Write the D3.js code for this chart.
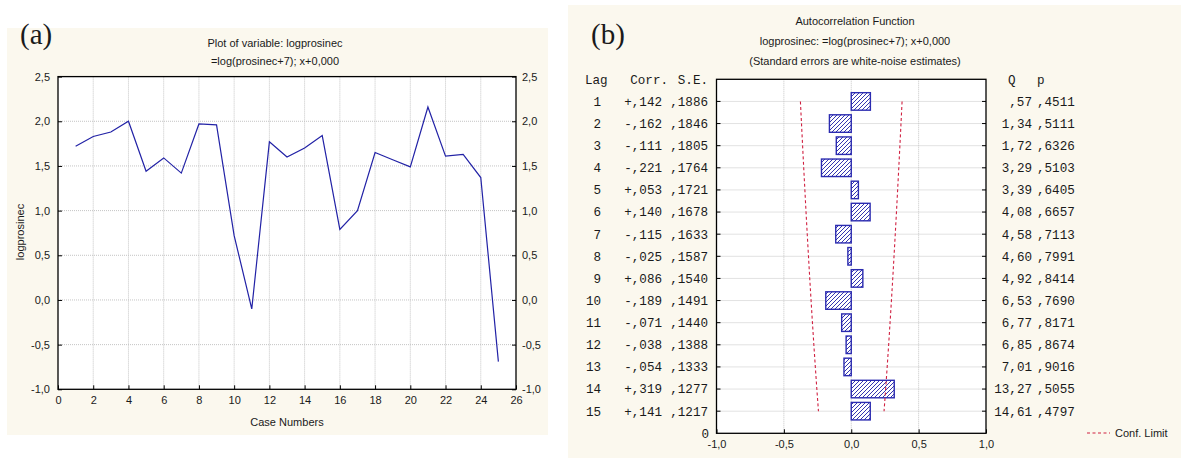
<!DOCTYPE html>
<html>
<head>
<meta charset="utf-8">
<script src="https://cdn.jsdelivr.net/npm/d3@7"></script>
<style>
  body { margin: 0; background: #fff; }
  text { font-family: "Liberation Sans", Arial, sans-serif; fill: #1a1a1a; }
  .mono { font-family: "Liberation Mono", "Courier New", monospace; font-size: 12.6px; }
  .grid line { stroke: #c4c4c4; stroke-dasharray: 1,1; }
</style>
</head>
<body>
<div id="chart"></div>
<script>
// (a) series plot
const caseNumbers = d3.range(1, 26);
const logprosinec = [1.72, 1.83, 1.88, 2.00, 1.44, 1.59, 1.42, 1.97, 1.96, 0.72,
                     -0.10, 1.77, 1.60, 1.70, 1.84, 0.79, 1.00, 1.65, 1.57, 1.49,
                     2.16, 1.61, 1.63, 1.37, -0.69];
const xTicksA = d3.range(0, 27, 2);
const yTicksA = [-1, -0.5, 0, 0.5, 1, 1.5, 2, 2.5];

// (b) autocorrelation
const lags = d3.range(1, 16);
const corr = [0.142, -0.162, -0.111, -0.221, 0.053, 0.140, -0.115, -0.025, 0.086, -0.189,
              -0.071, -0.038, -0.054, 0.319, 0.141];
const stdErr = [0.1886, 0.1846, 0.1805, 0.1764, 0.1721, 0.1678, 0.1633, 0.1587, 0.1540, 0.1491,
                0.1440, 0.1388, 0.1333, 0.1277, 0.1217];
const qStat = [0.57, 1.34, 1.72, 3.29, 3.39, 4.08, 4.58, 4.60, 4.92, 6.53,
               6.77, 6.85, 7.01, 13.27, 14.61];
const pVal = [0.4511, 0.5111, 0.6326, 0.5103, 0.6405, 0.6657, 0.7113, 0.7991, 0.8414, 0.7690,
              0.8171, 0.8674, 0.9016, 0.5055, 0.4797];
const xTicksB = [-1, -0.5, 0, 0.5, 1];

const W = 1181, H = 458;
const loc = d3.formatLocale({decimal: ",", thousands: ".", grouping: [3], currency: ["", ""], minus: "-"});
const f1 = loc.format(".1f");

const svg = d3.select('#chart').append('svg')
  .attr('width', W).attr('height', H);

const defs = svg.append('defs');
const pat = defs.append('pattern')
  .attr('id', 'hatch').attr('patternUnits', 'userSpaceOnUse')
  .attr('width', 4).attr('height', 4);
pat.append('rect').attr('width', 4).attr('height', 4).attr('fill', '#fff');
pat.append('path').attr('d', 'M-1,1 l2,-2 M0,4 l4,-4 M3,5 l2,-2')
  .attr('stroke', '#3535b0').attr('stroke-width', 1);

// ---------- panel (a) ----------
svg.append('rect').attr('x', 7).attr('y', 28).attr('width', 541).attr('height', 407).attr('fill', '#fbf8ee');

const xA = d3.scaleLinear().domain([0, 26]).range([58, 516]);
const yA = d3.scaleLinear().domain([-1, 2.5]).range([389.3, 76.6]);

const gA = svg.append('g');
gA.append('rect').attr('x', xA(0)).attr('y', yA(2.5))
  .attr('width', xA(26) - xA(0)).attr('height', yA(-1) - yA(2.5)).attr('fill', '#fff');

const gridA = gA.append('g').attr('class', 'grid');
gridA.selectAll('.v').data(xTicksA.slice(1, -1)).enter().append('line')
  .attr('x1', d => xA(d)).attr('x2', d => xA(d)).attr('y1', yA(2.5)).attr('y2', yA(-1));
gridA.selectAll('.h').data(yTicksA.slice(1, -1)).enter().append('line')
  .attr('x1', xA(0)).attr('x2', xA(26)).attr('y1', d => yA(d)).attr('y2', d => yA(d));

gA.append('path')
  .datum(caseNumbers.map((c, i) => [c, logprosinec[i]]))
  .attr('d', d3.line().x(d => xA(d[0])).y(d => yA(d[1])))
  .attr('fill', 'none').attr('stroke', '#2222a6').attr('stroke-width', 1.2);

function styleAxis(g) {
  g.select('.domain').remove();
  g.selectAll('.tick line').attr('stroke', '#000');
  g.selectAll('.tick text').attr('font-size', 11).attr('fill', '#1a1a1a')
    .style('font-family', '"Liberation Sans", Arial, sans-serif');
}

gA.append('g').attr('transform', `translate(${xA(0)},0)`)
  .call(d3.axisLeft(yA).tickValues(yTicksA).tickFormat(f1).tickSize(-4).tickPadding(8))
  .call(styleAxis);
gA.append('g').attr('transform', `translate(${xA(26)},0)`)
  .call(d3.axisRight(yA).tickValues(yTicksA).tickFormat(f1).tickSize(-4).tickPadding(6))
  .call(styleAxis);
gA.append('g').attr('transform', `translate(0,${yA(-1)})`)
  .call(d3.axisBottom(xA).tickValues(xTicksA).tickFormat(d3.format('d')).tickSize(-4).tickPadding(7))
  .call(styleAxis);

gA.append('rect').attr('x', xA(0)).attr('y', yA(2.5))
  .attr('width', xA(26) - xA(0)).attr('height', yA(-1) - yA(2.5))
  .attr('fill', 'none').attr('stroke', '#000').attr('stroke-width', 1.3);

gA.append('text').attr('x', 20).attr('y', 44).attr('font-size', 29)
  .style('font-family', '"Liberation Serif", "Times New Roman", serif').text('(a)');
gA.append('text').attr('x', 275).attr('y', 47).attr('text-anchor', 'middle').attr('font-size', 11)
  .text('Plot of variable: logprosinec');
gA.append('text').attr('x', 275).attr('y', 65).attr('text-anchor', 'middle').attr('font-size', 11)
  .text('=log(prosinec+7); x+0,000');
gA.append('text').attr('x', 287).attr('y', 426).attr('text-anchor', 'middle').attr('font-size', 11)
  .text('Case Numbers');
gA.append('text').attr('transform', 'translate(24,232) rotate(-90)').attr('text-anchor', 'middle')
  .attr('font-size', 11).text('logprosinec');

// ---------- panel (b) ----------
svg.append('rect').attr('x', 568).attr('y', 5).attr('width', 613).attr('height', 453).attr('fill', '#fbf8ee');

const xB = d3.scaleLinear().domain([-1, 1]).range([716.5, 986]);
const yB = d3.scaleLinear().domain([0, 16]).range([79.3, 433.3]);
const barH = 17.5;

const gB = svg.append('g');
gB.append('rect').attr('x', xB(-1)).attr('y', yB(0))
  .attr('width', xB(1) - xB(-1)).attr('height', yB(16) - yB(0)).attr('fill', '#fff');

const gridB = gB.append('g').attr('class', 'grid');
gridB.selectAll('.v').data([-0.5, 0, 0.5]).enter().append('line')
  .attr('x1', d => xB(d)).attr('x2', d => xB(d)).attr('y1', yB(0)).attr('y2', yB(16));
gridB.selectAll('.h').data(lags).enter().append('line')
  .attr('x1', xB(-1)).attr('x2', xB(1)).attr('y1', d => yB(d)).attr('y2', d => yB(d));

gB.selectAll('.bar').data(lags).enter().append('rect')
  .attr('x', (d, i) => xB(Math.min(0, corr[i])))
  .attr('width', (d, i) => Math.abs(xB(corr[i]) - xB(0)))
  .attr('y', d => yB(d) - barH / 2)
  .attr('height', barH)
  .attr('fill', 'url(#hatch)').attr('stroke', '#2b2bb0').attr('stroke-width', 1.4);

const confLine = d3.line().x(d => xB(d[0])).y(d => yB(d[1]));
[1, -1].forEach(s => {
  gB.append('path')
    .datum(lags.map((l, i) => [s * 2 * stdErr[i], l]))
    .attr('d', confLine)
    .attr('fill', 'none').attr('stroke', '#d02040').attr('stroke-width', 1.1)
    .attr('stroke-dasharray', '3,2.5');
});

gB.append('g').attr('transform', `translate(0,${yB(16)})`)
  .call(d3.axisBottom(xB).tickValues(xTicksB).tickFormat(f1).tickSize(-4).tickPadding(7))
  .call(styleAxis);
// inward row ticks on both sides
gB.selectAll('.tl').data(lags).enter().append('line')
  .attr('x1', xB(-1)).attr('x2', xB(-1) + 4).attr('y1', d => yB(d)).attr('y2', d => yB(d)).attr('stroke', '#000');
gB.selectAll('.tr').data(lags).enter().append('line')
  .attr('x1', xB(1) - 4).attr('x2', xB(1)).attr('y1', d => yB(d)).attr('y2', d => yB(d)).attr('stroke', '#000');

gB.append('rect').attr('x', xB(-1)).attr('y', yB(0))
  .attr('width', xB(1) - xB(-1)).attr('height', yB(16) - yB(0))
  .attr('fill', 'none').attr('stroke', '#000').attr('stroke-width', 1.3);

const fmtCorr = v => (v >= 0 ? '+' : '-') + ',' + Math.abs(v).toFixed(3).slice(2);
const fmtFrac = v => ',' + v.toFixed(4).slice(2);
const fmtQ = v => (v < 1 ? ',' + v.toFixed(2).slice(2) : v.toFixed(2).replace('.', ','));

const rows = gB.selectAll('.row').data(lags).enter().append('g')
  .attr('transform', d => `translate(0,${yB(d)})`);
rows.append('text').attr('class', 'mono').attr('x', 601).attr('dy', '0.35em').attr('text-anchor', 'end').text(d => d);
rows.append('text').attr('class', 'mono').attr('x', 662).attr('dy', '0.35em').attr('text-anchor', 'end').text((d, i) => fmtCorr(corr[i]));
rows.append('text').attr('class', 'mono').attr('x', 708).attr('dy', '0.35em').attr('text-anchor', 'end').text((d, i) => fmtFrac(stdErr[i]));
rows.append('text').attr('class', 'mono').attr('x', 1032).attr('dy', '0.35em').attr('text-anchor', 'end').text((d, i) => fmtQ(qStat[i]));
rows.append('text').attr('class', 'mono').attr('x', 1037).attr('dy', '0.35em').text((d, i) => fmtFrac(pVal[i]));

const hdrY = 80;
gB.append('text').attr('class', 'mono').attr('x', 585).attr('y', hdrY).attr('dy', '0.35em').text('Lag');
gB.append('text').attr('class', 'mono').attr('x', 668).attr('y', hdrY).attr('dy', '0.35em').attr('text-anchor', 'end').text('Corr.');
gB.append('text').attr('class', 'mono').attr('x', 708).attr('y', hdrY).attr('dy', '0.35em').attr('text-anchor', 'end').text('S.E.');
gB.append('text').attr('class', 'mono').attr('x', 1008).attr('y', hdrY).attr('dy', '0.35em').text('Q');
gB.append('text').attr('class', 'mono').attr('x', 1037).attr('y', hdrY).attr('dy', '0.35em').text('p');
gB.append('text').attr('class', 'mono').attr('x', 709).attr('y', yB(16)).attr('dy', '0.35em').attr('text-anchor', 'end').text('0');

gB.append('text').attr('x', 591).attr('y', 44).attr('font-size', 29)
  .style('font-family', '"Liberation Serif", "Times New Roman", serif').text('(b)');
gB.append('text').attr('x', 855).attr('y', 25).attr('text-anchor', 'middle').attr('font-size', 11).text('Autocorrelation Function');
gB.append('text').attr('x', 855).attr('y', 45).attr('text-anchor', 'middle').attr('font-size', 11).text('logprosinec: =log(prosinec+7); x+0,000');
gB.append('text').attr('x', 855).attr('y', 65).attr('text-anchor', 'middle').attr('font-size', 11).text('(Standard errors are white-noise estimates)');

// legend
gB.append('line').attr('x1', 1087).attr('x2', 1110).attr('y1', 433).attr('y2', 433)
  .attr('stroke', '#d02040').attr('stroke-width', 1.1).attr('stroke-dasharray', '3,2.5');
gB.append('text').attr('x', 1115).attr('y', 433).attr('dy', '0.35em').attr('font-size', 11).text('Conf. Limit');
</script>
</body>
</html>
